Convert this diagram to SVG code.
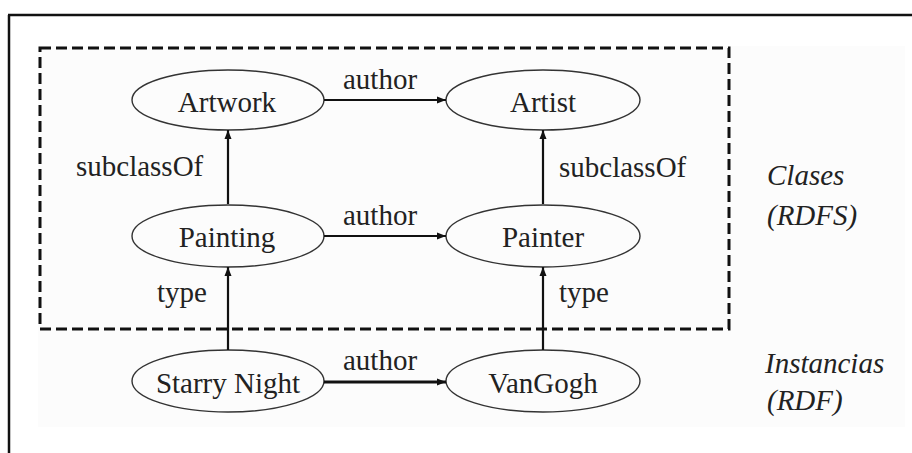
<svg xmlns="http://www.w3.org/2000/svg" width="912" height="453" viewBox="0 0 912 453">
<style>
.node ellipse{fill:none;stroke:#333;stroke-width:1.4}
.t{font-family:'Liberation Serif',serif;font-size:29px;fill:#222}
.c{text-anchor:middle}
.it{font-style:italic}
.conn line{stroke:#111;stroke-width:2.2}
</style>
<defs>
<marker id="ah" markerWidth="10" markerHeight="8" refX="9" refY="4" orient="auto" markerUnits="userSpaceOnUse">
<path d="M0,0.5 L9,4 L0,7.5 Z" fill="#111"/>
</marker>
</defs>
<rect x="0" y="0" width="912" height="453" fill="#fff"/>
<rect x="38" y="46" width="867" height="381" fill="#fcfcfc"/>
<path d="M8,15 H912 M9,15 V453" fill="none" stroke="#111" stroke-width="2.5"/>
<rect id="clases-box" x="40" y="48" width="689" height="281" fill="none" stroke="#111" stroke-width="3" stroke-dasharray="11 5"/>
<g font-family="Liberation Serif, serif">
<g id="n-artwork" class="node"><ellipse cx="228" cy="100" rx="96" ry="30"/><text class="t c" x="227" y="112">Artwork</text></g>
<g id="n-artist" class="node"><ellipse cx="543" cy="100" rx="97" ry="30"/><text class="t c" x="543" y="112">Artist</text></g>
<g id="n-painting" class="node"><ellipse cx="228" cy="236" rx="96" ry="31"/><text class="t c" x="227" y="247">Painting</text></g>
<g id="n-painter" class="node"><ellipse cx="543" cy="236" rx="97" ry="31"/><text class="t c" x="543" y="247">Painter</text></g>
<g id="n-starry" class="node"><ellipse cx="228" cy="381" rx="96" ry="31"/><text class="t c" x="228" y="393">Starry Night</text></g>
<g id="n-vangogh" class="node"><ellipse cx="543" cy="381" rx="97" ry="31"/><text class="t c" x="543" y="393">VanGogh</text></g>
</g>
<g id="connectors" class="conn">
<line x1="324" y1="100" x2="446" y2="100" marker-end="url(#ah)"/>
<line x1="324" y1="236" x2="446" y2="236" marker-end="url(#ah)"/>
<line x1="324" y1="382" x2="446" y2="382" marker-end="url(#ah)" style="stroke-width:3"/>
<line x1="228" y1="204" x2="228" y2="130" marker-end="url(#ah)"/>
<line x1="543" y1="204" x2="543" y2="130" marker-end="url(#ah)"/>
<line x1="228" y1="350" x2="228" y2="267" marker-end="url(#ah)"/>
<line x1="543" y1="350" x2="543" y2="267" marker-end="url(#ah)"/>
</g>
<g id="labels" font-family="Liberation Serif, serif">
<text class="t c" x="380" y="89">author</text>
<text class="t c" x="380" y="225">author</text>
<text class="t c" x="380" y="370">author</text>
<text class="t" x="76" y="176">subclassOf</text>
<text class="t" x="559" y="177">subclassOf</text>
<text class="t" x="157" y="302">type</text>
<text class="t" x="559" y="302">type</text>
<text class="t it" x="767" y="185">Clases</text>
<text class="t it" x="767" y="225">(RDFS)</text>
<text class="t it" x="765" y="373">Instancias</text>
<text class="t it" x="767" y="410">(RDF)</text>
</g>
</svg>
